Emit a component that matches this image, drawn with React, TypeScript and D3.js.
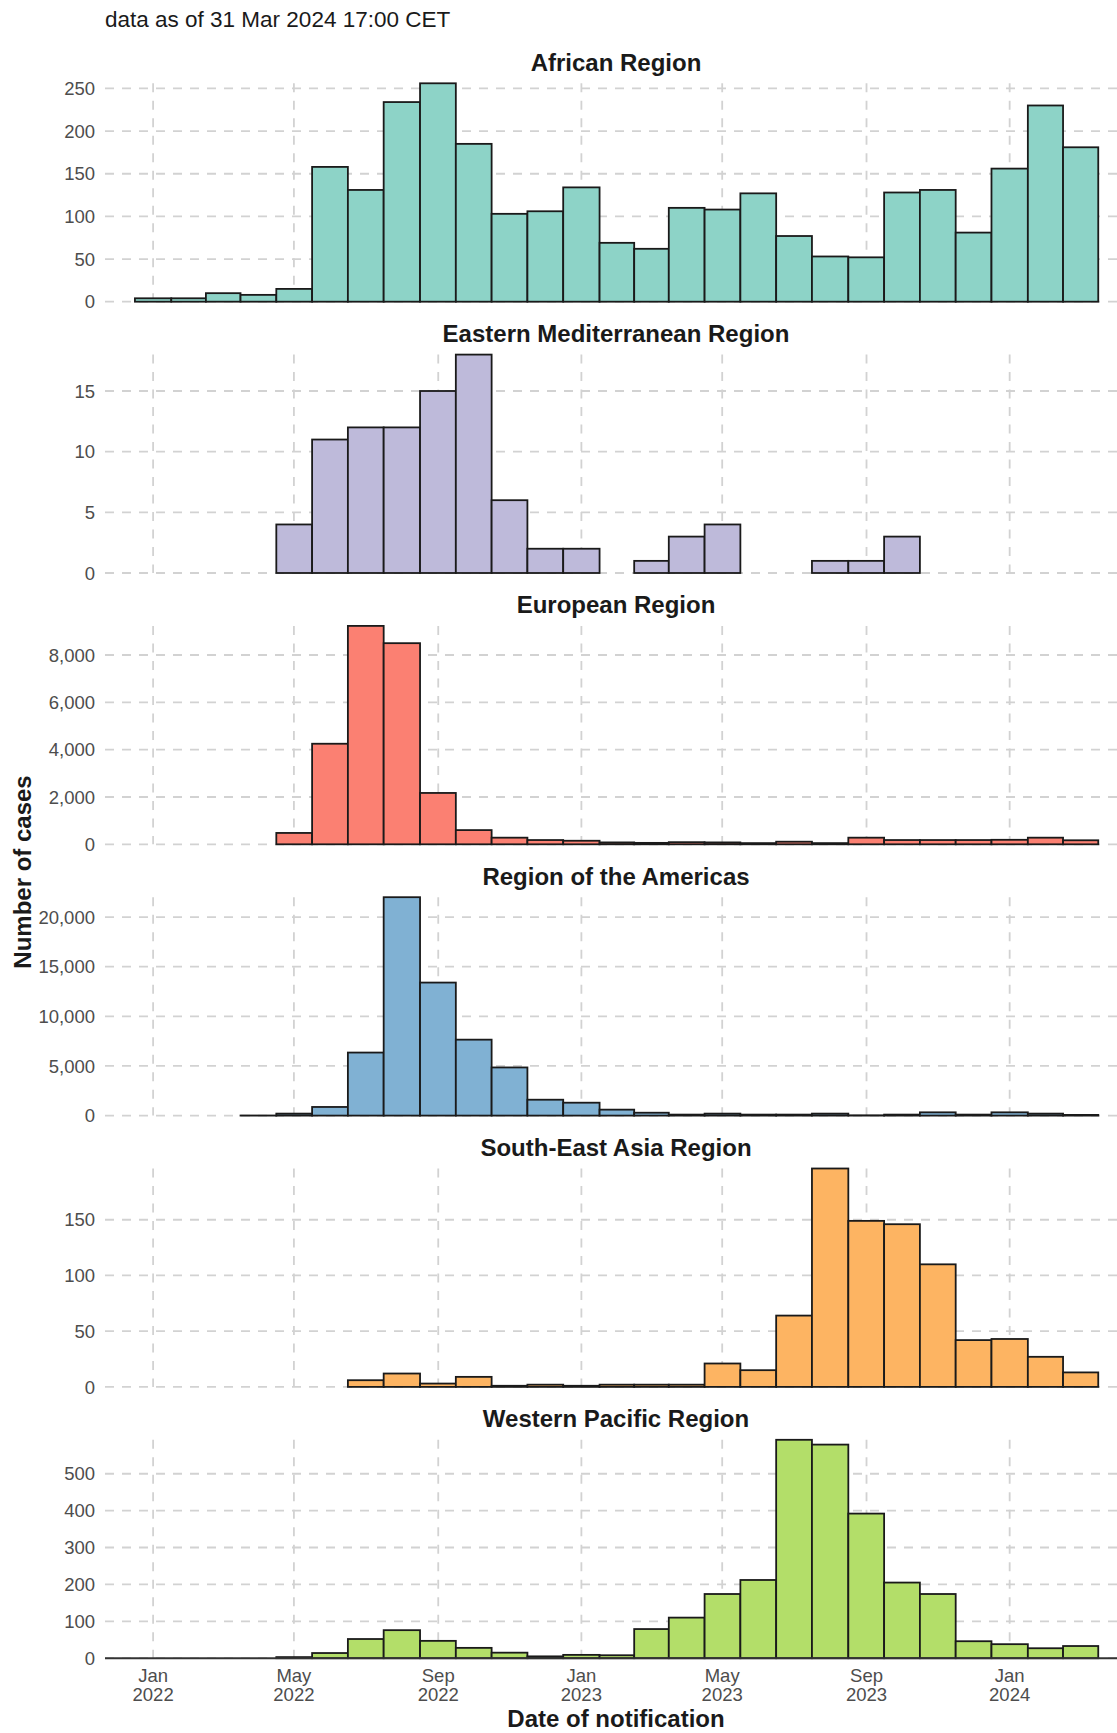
import * as d3 from "d3";

const WIDTH = 1117;
const HEIGHT = 1733;
const PLOT_LEFT = 105;
const PLOT_RIGHT = 1127;
const PANEL_TOP = 83.3;
const PANEL_HEIGHT = 218.4;
const PANEL_STEP = 271.3;
const FONT = "'Liberation Sans', Arial, Helvetica, sans-serif";

const SUBTITLE = "data as of 31 Mar 2024 17:00 CET";
const Y_TITLE = "Number of cases";
const X_TITLE = "Date of notification";

// monthly bins, Jan 2022 .. Mar 2024
const FIRST_MONTH = "2022-01-01";
const MONTH_COUNT = 27;
const X_DOMAIN = ["2021-11-21", "2024-04-10"];
const X_TICKS = ["2022-01-01", "2022-05-01", "2022-09-01", "2023-01-01", "2023-05-01", "2023-09-01", "2024-01-01"];

const regions = [
  "African Region",
  "Eastern Mediterranean Region",
  "European Region",
  "Region of the Americas",
  "South-East Asia Region",
  "Western Pacific Region",
];
const regionColors = ["#8DD3C7", "#BEBADA", "#FB8072", "#80B1D3", "#FDB462", "#B3DE69"];

const african = [4, 4, 10, 8, 15, 158, 131, 234, 256, 185, 103, 106, 134, 69, 62, 110, 108, 127, 77, 53, 52, 128, 131, 81, 156, 230, 181];
const easternMed = [null, null, null, null, 4, 11, 12, 12, 15, 18, 6, 2, 2, null, 1, 3, 4, null, null, 1, 1, 3, null, null, null, null, null];
const european = [null, null, null, null, 480, 4250, 9230, 8500, 2170, 600, 280, 180, 150, 80, 60, 90, 80, 50, 110, 50, 280, 180, 180, 180, 190, 280, 170];
const americas = [null, null, null, 10, 200, 870, 6350, 22000, 13400, 7650, 4850, 1600, 1300, 600, 290, 100, 200, 100, 100, 200, 30, 100, 330, 100, 330, 200, 70];
const southEastAsia = [null, null, null, null, null, null, 6, 12, 3, 9, 1, 2, 1, 2, 2, 2, 21, 15, 64, 196, 149, 146, 110, 42, 43, 27, 13];
const westernPacific = [null, null, null, null, 3, 14, 52, 76, 47, 28, 15, 5, 9, 8, 79, 110, 174, 212, 592, 579, 392, 205, 174, 46, 38, 27, 33];

const series = [african, easternMed, european, americas, southEastAsia, westernPacific];

const parse = d3.utcParse("%Y-%m-%d");
const firstMonth = parse(FIRST_MONTH) as Date;

const x = d3
  .scaleUtc()
  .domain(X_DOMAIN.map((d) => parse(d) as Date))
  .range([PLOT_LEFT, PLOT_RIGHT]);

// bin edges sit halfway between month starts, so each bar is centred on its month
const edge = (i: number) => {
  const a = d3.utcMonth.offset(firstMonth, i - 1).getTime();
  const b = d3.utcMonth.offset(firstMonth, i).getTime();
  return new Date((a + b) / 2);
};

const fmtMonth = d3.utcFormat("%b");
const fmtYear = d3.utcFormat("%Y");
const fmtCount = d3.format(",");

const GRID = "#d2d2d2";
const AXIS_TEXT = "#4d4d4d";
const TITLE_TEXT = "#1a1a1a";

function Panel({ index }: { index: number }) {
  const values = series[index];
  const top = PANEL_TOP + index * PANEL_STEP;
  const bottom = top + PANEL_HEIGHT;
  const y = d3
    .scaleLinear()
    .domain([0, d3.max(values, (v) => v ?? 0) as number])
    .range([bottom, top]);
  const ticks = y.ticks(5);

  return (
    <g>
      {ticks.map((t) => (
        <line key={"h" + t} x1={PLOT_LEFT} x2={PLOT_RIGHT} y1={y(t)} y2={y(t)} stroke={GRID} strokeWidth={1.8} strokeDasharray="9 8" />
      ))}
      {X_TICKS.map((d) => (
        <line key={"v" + d} x1={x(parse(d) as Date)} x2={x(parse(d) as Date)} y1={top} y2={bottom} stroke={GRID} strokeWidth={1.8} strokeDasharray="9 8.5" />
      ))}
      {values.map((v, i) =>
        v == null ? null : (
          <rect
            key={i}
            x={x(edge(i))}
            width={x(edge(i + 1)) - x(edge(i))}
            y={y(v)}
            height={bottom - y(v)}
            fill={regionColors[index]}
            stroke="#1a1a1a"
            strokeWidth={1.8}
          />
        )
      )}
      {ticks.map((t) => (
        <text key={"l" + t} x={95} y={y(t)} dy="0.36em" textAnchor="end" fontSize={18.5} fill={AXIS_TEXT}>
          {fmtCount(t)}
        </text>
      ))}
      <text x={(PLOT_LEFT + PLOT_RIGHT) / 2} y={top - 12.5} textAnchor="middle" fontSize={24} fontWeight="bold" fill={TITLE_TEXT}>
        {regions[index]}
      </text>
    </g>
  );
}

export default function App() {
  const lastBottom = PANEL_TOP + (regions.length - 1) * PANEL_STEP + PANEL_HEIGHT;
  return (
    <>
      <style>{"body{margin:0}"}</style>
      <svg width={WIDTH} height={HEIGHT} viewBox={`0 0 ${WIDTH} ${HEIGHT}`} style={{ display: "block", background: "#fff" }} fontFamily={FONT}>
        <text x={PLOT_LEFT} y={26.5} fontSize={22.5} fill={TITLE_TEXT}>
          {SUBTITLE}
        </text>
        {regions.map((_, i) => (
          <Panel key={i} index={i} />
        ))}
        <line x1={PLOT_LEFT} x2={PLOT_RIGHT} y1={lastBottom} y2={lastBottom} stroke="#333" strokeWidth={2} />
        {X_TICKS.map((d) => {
          const date = parse(d) as Date;
          return (
            <text key={d} x={x(date)} textAnchor="middle" fontSize={18.5} fill={AXIS_TEXT}>
              <tspan x={x(date)} y={lastBottom + 24}>
                {fmtMonth(date)}
              </tspan>
              <tspan x={x(date)} y={lastBottom + 43}>
                {fmtYear(date)}
              </tspan>
            </text>
          );
        })}
        <text x={(PLOT_LEFT + PLOT_RIGHT) / 2} y={1727} textAnchor="middle" fontSize={24} fontWeight="bold" fill={TITLE_TEXT}>
          {X_TITLE}
        </text>
        <text transform={`translate(30.5, 872) rotate(-90)`} textAnchor="middle" fontSize={24} fontWeight="bold" fill={TITLE_TEXT}>
          {Y_TITLE}
        </text>
      </svg>
    </>
  );
}
